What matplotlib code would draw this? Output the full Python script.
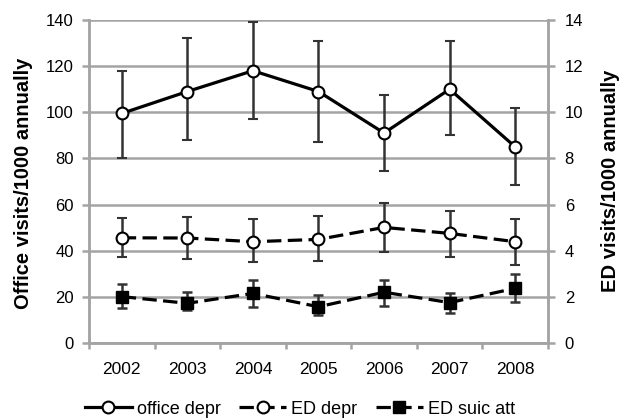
import matplotlib.pyplot as plt
from matplotlib.lines import Line2D
import numpy as np

plt.rcParams['font.family'] = ['Liberation Sans', 'DejaVu Sans']

years = ["2002", "2003", "2004", "2005", "2006", "2007", "2008"]

# office visits, left axis (per 1000)
office = [99.5, 109, 118, 109, 91, 110, 85]
office_hi = [118, 132, 139, 131, 107.5, 131, 102]
office_lo = [80, 88, 97, 87, 74.5, 90, 68.5]

# ED visits, right axis (per 1000)
ed_depr = [4.56, 4.55, 4.39, 4.49, 5.01, 4.75, 4.39]
ed_depr_hi = [5.4, 5.45, 5.37, 5.5, 6.08, 5.73, 5.36]
ed_depr_lo = [3.74, 3.65, 3.5, 3.57, 3.93, 3.74, 3.4]

ed_suic = [2.01, 1.72, 2.15, 1.57, 2.2, 1.75, 2.37]
ed_suic_hi = [2.56, 2.2, 2.73, 2.08, 2.73, 2.18, 2.99]
ed_suic_lo = [1.5, 1.43, 1.57, 1.21, 1.6, 1.31, 1.79]

labels = ["office depr", "ED depr", "ED suic att"]

x = np.arange(len(years))
grey = "#a4a4a4"
dash = (0, (4.5, 2))

fig = plt.figure(figsize=(6.28, 4.19), dpi=100)
ax = fig.add_axes([0.1417, 0.1814, 0.7309, 0.7709])
ax2 = ax.twinx()

def err(v, hi, lo):
    v = np.array(v)
    return [v - np.array(lo), np.array(hi) - v]

ebkw = dict(ecolor="#333333", elinewidth=1.8, capsize=3.8, capthick=1.8, zorder=3)
ax.errorbar(x, office, yerr=err(office, office_hi, office_lo), color="black", lw=2.3,
            marker="o", ms=8.5, mfc="white", mec="black", mew=1.5, **ebkw)
ax2.errorbar(x, ed_depr, yerr=err(ed_depr, ed_depr_hi, ed_depr_lo), color="black", lw=2.3,
             ls=dash, marker="o", ms=8.5, mfc="white", mec="black", mew=1.5, **ebkw)
ax2.errorbar(x, ed_suic, yerr=err(ed_suic, ed_suic_hi, ed_suic_lo), color="black", lw=2.3,
             ls=dash, marker="s", ms=8, mfc="black", mec="black", **ebkw)

ax.set_xlim(-0.5, 6.5)
ax.set_ylim(0, 140)
ax.set_yticks(range(0, 141, 20))
ax2.set_ylim(0, 14)
ax2.set_yticks(range(0, 15, 2))
ax.set_xticks(x)
ax.set_xticklabels(years)
ax.set_xticks(np.arange(-0.5, 7, 1), minor=True)
ax.tick_params(axis="x", which="major", length=0, labelsize=12.5, pad=14)
ax.tick_params(axis="x", which="minor", length=4, color=grey, width=1.8)
ax.tick_params(axis="y", labelsize=12, length=5, color=grey, width=1.8, pad=6)
ax2.tick_params(axis="y", labelsize=12, length=5, color=grey, width=1.8, pad=7)
ax.yaxis.grid(True, color=grey, lw=1.8)
ax.set_axisbelow(True)

for a in (ax, ax2):
    for s in a.spines.values():
        s.set_color(grey)
        s.set_linewidth(1.8)
    a.spines["top"].set_visible(False)

fig.text(24 / 628, 1 - 183 / 419, "Office visits/1000 annually", rotation=90,
         ha="center", va="center", fontsize=14.5, fontweight="bold")
fig.text(610 / 628, 1 - 181 / 419, "ED visits/1000 annually", rotation=90,
         ha="center", va="center", fontsize=14.5, fontweight="bold")

handles = [
    Line2D([], [], color="black", lw=2.3, marker="o", ms=8.5, mfc="white", mew=1.5),
    Line2D([], [], color="black", lw=2.3, ls=dash, marker="o", ms=8.5, mfc="white", mew=1.5),
    Line2D([], [], color="black", lw=2.3, ls=dash, marker="s", ms=8),
]
fig.legend(handles, labels, loc="center", bbox_to_anchor=(300 / 628, 1 - 409 / 419),
           ncol=3, frameon=False, fontsize=13,
           handlelength=2.6, columnspacing=1.0, handletextpad=0.3)

fig.savefig("out.png", dpi=100)
